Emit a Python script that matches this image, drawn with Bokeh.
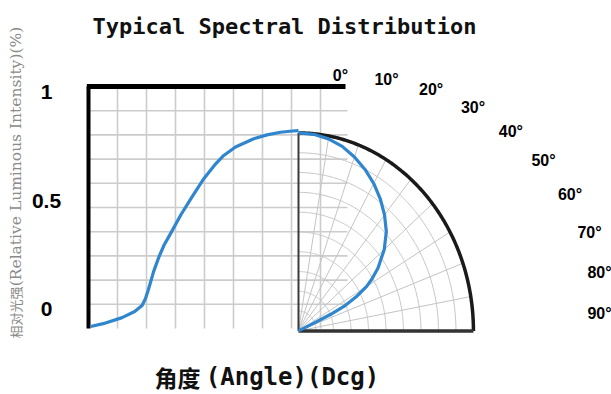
import numpy as np
from bokeh.plotting import figure
from bokeh.models import Range1d
from bokeh.core.properties import value
from bokeh.embed import file_html
from bokeh.resources import INLINE

# ---------------- data ----------------
# left (cartesian) curve: relative intensity, x in box units (-1 .. 0)
cart_x = [-0.99, -0.93, -0.84, -0.78, -0.745, -0.729, -0.715, -0.69, -0.665, -0.64,
          -0.61, -0.56, -0.51, -0.45, -0.40, -0.356, -0.30, -0.213, -0.15, -0.086, -0.03, 0.0]
cart_y = [0.008, 0.02, 0.045, 0.07, 0.095, 0.123, 0.16, 0.235, 0.295, 0.345,
          0.391, 0.47, 0.54, 0.62, 0.675, 0.715, 0.75, 0.784, 0.80, 0.811, 0.816, 0.818]

# polar curve: angle (deg from axis) and relative intensity
polar_theta = [0, 5, 10, 15, 20, 25, 30, 35, 40, 45, 50, 55, 58, 60, 62.5, 64.5, 65.5, 65.8, 66]
polar_r = [1.0, 0.997, 0.985, 0.965, 0.935, 0.9, 0.86, 0.815, 0.765, 0.71, 0.64, 0.555,
           0.495, 0.45, 0.37, 0.29, 0.2, 0.1, 0.0]

angle_labels = ["0°", "10°", "20°", "30°", "40°", "50°", "60°", "70°", "80°", "90°"]
angle_values = [0, 10, 20, 30, 40, 50, 60, 70, 80, 90]
ytick_values = [1, 0.5, 0]
ytick_labels = ["1", "0.5", "0"]

title_text = "Typical Spectral Distribution"
xlabel_cjk = "角度"
xlabel_latin = "(Angle)(Dcg)"
ylabel_cjk = "相对光强"
ylabel_latin = "(Relative Luminous Intensity)(%)"

# ---------------- layout constants ----------------
W, H = 611, 394
SX, SY = 210.0, 242.0       # px per data unit
OX, OY = 298.0, 328.0       # px of data origin
RX, RY = 0.833, 0.818       # polar radius in data units (x, y)
PCY = -0.01                 # polar centre y
GRID_DX = 29 / SX


def dx(px):
    return (px - OX) / SX


def dy(py):
    return (OY - py) / SY


p = figure(width=W, height=H, output_backend="svg", toolbar_location=None,
           x_range=Range1d(dx(0), dx(W)), y_range=Range1d(dy(H), dy(0)),
           min_border=0, min_border_left=0, min_border_right=0,
           min_border_top=0, min_border_bottom=0)
p.xaxis.visible = False
p.yaxis.visible = False
p.grid.visible = False
p.outline_line_color = None
p.background_fill_color = "white"
p.border_fill_color = "white"

grid_col = "#cccccc"
gx = [-1 + k * GRID_DX for k in range(1, 9)]
p.segment(x0=gx, y0=[0] * len(gx), x1=gx, y1=[1] * len(gx), line_color=grid_col, line_width=1.6)
gy = [k / 10 for k in range(1, 10)]
p.segment(x0=[-1] * len(gy), y0=gy, x1=[dx(347)] * len(gy), y1=gy, line_color=grid_col, line_width=1.6)

# polar grid
pg = "#c4c4c4"
th = np.radians(np.linspace(0, 90, 181))
for k in range(1, 10):
    rr = k / 10
    p.line(RX * rr * np.sin(th), PCY + RY * rr * np.cos(th), line_color=pg, line_width=1)
for a in range(10, 90, 10):
    t = np.radians(a)
    p.line([0, RX * np.sin(t)], [PCY, PCY + RY * np.cos(t)], line_color=pg, line_width=1)

# outer arc and polar axes
p.line(RX * np.sin(th), PCY + RY * np.cos(th), line_color="#1a1a1a", line_width=3.5)
p.line([0, 0], [PCY, PCY + RY], line_color="#3a3a3a", line_width=2)
p.line([0, RX], [PCY, PCY], line_color="#333333", line_width=3.5)

# box borders
p.line([-1, -1], [0, 1], line_color="black", line_width=4)
p.line([-1.008, dx(345)], [1, 1], line_color="black", line_width=5)

# curves
blue = "#2f86cf"
p.line(cart_x, cart_y, line_color=blue, line_width=3.2)
pt = np.radians(polar_theta)
pr = np.array(polar_r)
p.line(RX * pr * np.sin(pt), PCY + RY * pr * np.cos(pt), line_color=blue, line_width=3.2)

narrow = value("Liberation Sans")

# angle labels
av = np.radians(angle_values)
lx = np.minimum(0.2 + 1.262 * np.sin(av), dx(W - 12))
ly = 0.062 + 0.983 * np.cos(av)
p.text(x=list(lx), y=list(ly), text=angle_labels,
       text_font=narrow, text_font_style="bold", text_font_size="16px",
       text_align="center", text_baseline="middle", text_color="black")

# y tick labels
p.text(x=[dx(46)] * 3, y=[0.079 + 0.897 * v for v in ytick_values], text=ytick_labels,
       text_font=narrow, text_font_style="bold", text_font_size="21px",
       text_align="center", text_baseline="middle", text_color="black")

# title
p.text(x=[dx(284)], y=[dy(26)], text=[title_text], text_font=value("DejaVu Sans Mono"),
       text_font_style="bold", text_font_size="22px", text_align="center",
       text_baseline="middle", text_color="#111111")

# x label
p.text(x=[dx(177)], y=[dy(376)], text=[xlabel_cjk], text_font=value("Noto Sans CJK SC"),
       text_font_style="bold", text_font_size="23px", text_align="center",
       text_baseline="middle", text_color="#111111")
p.text(x=[dx(292)], y=[dy(376)], text=[xlabel_latin], text_font=value("DejaVu Sans Mono"),
       text_font_style="bold", text_font_size="24px", text_align="center",
       text_baseline="middle", text_color="#111111")

# y label (rotated)
p.text(x=[dx(15)], y=[dy(312)], text=[ylabel_cjk], angle=np.pi / 2,
       text_font=value("Noto Sans CJK SC"), text_font_size="13px", text_align="center",
       text_baseline="middle", text_color="#8a8a8a")
p.text(x=[dx(15)], y=[dy(156)], text=[ylabel_latin], angle=np.pi / 2,
       text_font=value("DejaVu Serif"), text_font_size="15.5px", text_align="center",
       text_baseline="middle", text_color="#8a8a8a")

open("out.html", "w").write(file_html(p, INLINE))
